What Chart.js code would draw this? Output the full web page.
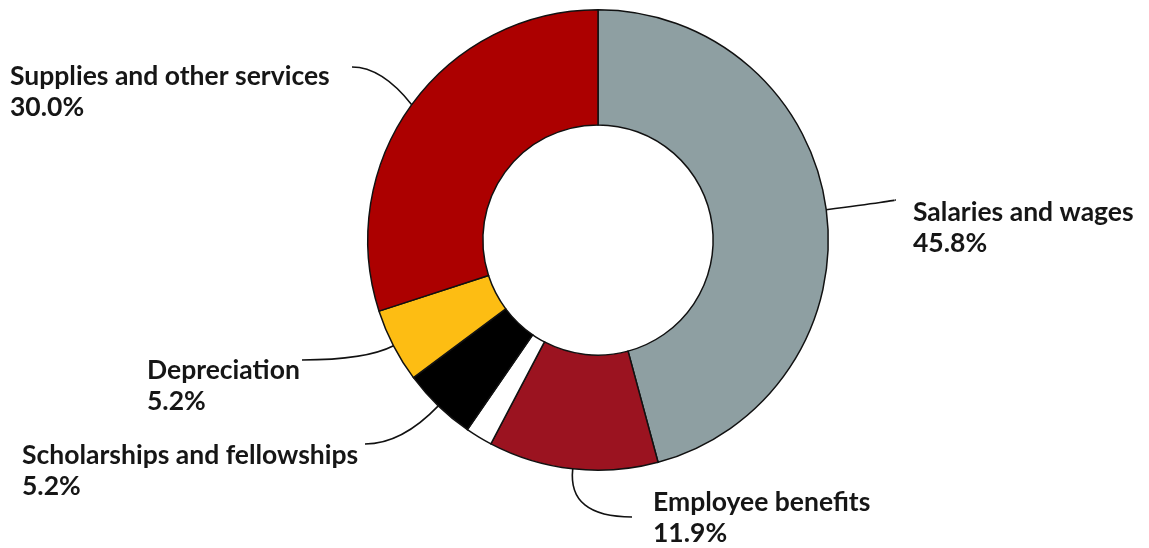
<!DOCTYPE html>
<html>
<head>
<meta charset="utf-8">
<script src="https://cdn.jsdelivr.net/npm/chart.js@4.4.1/dist/chart.umd.min.js"></script>
<style>
  html, body { margin: 0; padding: 0; background: #fff; }
  #wrap { width: 1149px; height: 548px; }
</style>
</head>
<body>
<div id="wrap"><canvas id="grafico"></canvas></div>
<script>
// Dados do gráfico
const categorias = ['Salaries and wages', 'Employee benefits', '', 'Scholarships and fellowships', 'Depreciation', 'Supplies and other services'];
const percentuais = [45.8, 11.9, 1.9, 5.2, 5.2, 30.0];
const rotulos = ['45.8%', '11.9%', '', '5.2%', '5.2%', '30.0%'];
const cores = ['#8e9fa2', '#9b1320', '#ffffff', '#000000', '#fdbd13', '#ac0000'];

// posição dos rótulos relativa ao centro (fim da linha, texto)
const layoutRotulos = [
    { fim: [297, -40], texto: [315, -28] },
    { fim: [34, 277], texto: [55, 262] },
    null,
    { fim: [-233, 204], texto: [-576, 215] },
    { fim: [-296, 120], texto: [-451, 130] },
    { fim: [-246, -173], texto: [-588, -164] }
];

const pluginRotulos = {
    id: 'rotulos',
    afterDatasetsDraw(chart) {
        const ctx = chart.ctx;
        const arcs = chart.getDatasetMeta(0).data;
        ctx.save();
        arcs.forEach((arc, i) => {
            const lay = layoutRotulos[i];
            if (!lay) return;
            const cx = arc.x, cy = arc.y;
            const meio = (arc.startAngle + arc.endAngle) / 2;
            const dx = Math.cos(meio), dy = Math.sin(meio);
            const x0 = cx + dx * arc.outerRadius;
            const y0 = cy + dy * arc.outerRadius;
            const x1 = cx + lay.fim[0];
            const y1 = cy + lay.fim[1];
            // ponto de controle: linha radial encontra a horizontal do fim
            let t = Math.abs(dy) > 0.05 ? (y1 - y0) / dy : 0;
            if (t < 0) t = 0;
            let qx = x0 + dx * t;
            const qy = y0 + dy * t;
            // suaviza quando o controle fica muito perto do fim
            const total = x0 - x1;
            const resto = qx - x1;
            if (Math.sign(resto) === Math.sign(total) && Math.abs(resto) < Math.abs(total) * 0.5) {
                qx = x1 + total * 0.5;
            }
            ctx.beginPath();
            ctx.moveTo(x0, y0);
            ctx.quadraticCurveTo(qx, qy, x1, y1);
            ctx.lineWidth = 1.6;
            ctx.strokeStyle = '#111';
            ctx.stroke();

            ctx.fillStyle = '#161616';
            ctx.font = 'bold 26.5px Lato';
            ctx.textAlign = 'left';
            ctx.textBaseline = 'middle';
            ctx.fillText(categorias[i], cx + lay.texto[0], cy + lay.texto[1]);
            ctx.fillText(rotulos[i], cx + lay.texto[0], cy + lay.texto[1] + 31);
        });
        ctx.restore();
    }
};

new Chart(document.getElementById('grafico'), {
    type: 'doughnut',
    data: {
        labels: categorias,
        datasets: [{
            data: percentuais,
            backgroundColor: cores,
            borderColor: '#111',
            borderWidth: 1.5,
            borderJoinStyle: 'miter'
        }]
    },
    options: {
        responsive: true,
        maintainAspectRatio: false,
        animation: false,
        cutout: '50%',
        layout: { padding: { top: 8, bottom: 76, left: 367, right: 320 } },
        plugins: {
            legend: { display: false },
            tooltip: { enabled: false }
        }
    },
    plugins: [pluginRotulos]
});
</script>
</body>
</html>
